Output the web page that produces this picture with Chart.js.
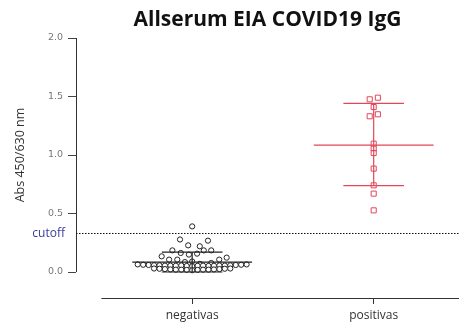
<!DOCTYPE html>
<html>
<head>
<meta charset="utf-8">
<script src="https://cdn.jsdelivr.net/npm/chart.js@4.4.0/dist/chart.umd.min.js"></script>
<style>
html, body { margin: 0; padding: 0; background: #fff; }
#wrap { width: 464px; height: 327px; }
</style>
</head>
<body>
<div id="wrap"><canvas id="chart"></canvas></div>
<script>
const groups = ['negativas', 'positivas'];
const yTicks = [0, 0.5, 1.0, 1.5, 2.0];
const cutoff = 0.33;

// beeswarm positions (x = group index + offset)
const negX = [1.000,
  0.933, 1.087,
  0.978, 1.042,
  0.891, 0.937, 0.982, 1.027, 1.064, 1.105,
  0.832, 0.873, 0.918, 0.960, 1.000, 1.042, 1.105, 1.149, 1.190,
  0.70, 0.73, 0.76, 0.79, 0.82, 0.85, 0.88, 0.91, 0.94, 0.97, 1.00, 1.03, 1.06, 1.09, 1.12, 1.15, 1.18, 1.21, 1.24, 1.27, 1.30,
  0.79, 0.82, 0.85, 0.88, 0.91, 0.94, 0.97, 1.00, 1.03, 1.06, 1.09, 1.12, 1.15, 1.18, 1.21];
const negY = [0.39,
  0.278, 0.268,
  0.228, 0.220,
  0.185, 0.163, 0.149, 0.157, 0.185, 0.185,
  0.134, 0.106, 0.106, 0.085, 0.090, 0.070, 0.077, 0.106, 0.123,
  0.065, 0.062, 0.060, 0.058, 0.057, 0.055, 0.055, 0.054, 0.056, 0.052, 0.050, 0.053, 0.055, 0.052, 0.054, 0.056, 0.055, 0.057, 0.060, 0.062, 0.065,
  0.030, 0.028, 0.025, 0.022, 0.020, 0.020, 0.018, 0.015, 0.018, 0.020, 0.020, 0.022, 0.025, 0.028, 0.030];

const posX = [1.978, 2.023, 2.000, 1.978, 2.023, 2.000, 2.000, 2.000, 2.000, 2.000, 2.000, 2.000];
const posY = [1.476, 1.490, 1.410, 1.331, 1.348, 1.097, 1.055, 1.017, 0.884, 0.741, 0.670, 0.527];

// mean and SD bars as drawn
const groupMean = [0.085, 1.085];
const groupSdLow = [0.0, 0.738];
const groupSdHigh = [0.17, 1.442];

const groupColors = ['#222222', '#e2475a'];
const yTitle = 'Abs 450/630 nm';

const toPoints = (xs, ys) => xs.map((v, i) => ({x: v, y: ys[i]}));

const prismPlugin = {
  id: 'prismPlugin',
  beforeDatasetsDraw(chart) {
    const {ctx, chartArea, scales: {x, y}} = chart;
    const y0 = y.getPixelForValue(0), y2 = y.getPixelForValue(2);
    ctx.save();
    ctx.strokeStyle = '#333';
    ctx.lineWidth = 1;
    // y axis line, only from 0 to 2
    ctx.beginPath();
    ctx.moveTo(chartArea.left + 0.5, y0);
    ctx.lineTo(chartArea.left + 0.5, y2);
    ctx.stroke();
    // x axis line, offset from y axis
    ctx.beginPath();
    ctx.moveTo(x.getPixelForValue(0.5), chartArea.bottom + 0.5);
    ctx.lineTo(chartArea.right, chartArea.bottom + 0.5);
    ctx.stroke();
    // y title centred on the 0..2 range
    ctx.save();
    ctx.translate(20, (y0 + y2) / 2);
    ctx.rotate(-Math.PI / 2);
    ctx.fillStyle = '#333';
    ctx.font = '12.5px "Open Sans"';
    ctx.textAlign = 'center';
    ctx.textBaseline = 'middle';
    ctx.fillText(yTitle, 0, 0);
    ctx.restore();
    // cutoff
    const cy = Math.round(y.getPixelForValue(cutoff)) + 0.5;
    ctx.strokeStyle = '#111';
    ctx.lineWidth = 1.2;
    ctx.setLineDash([1.5, 1.5]);
    ctx.beginPath();
    ctx.moveTo(chartArea.left, cy);
    ctx.lineTo(chartArea.right, cy);
    ctx.stroke();
    ctx.setLineDash([]);
    ctx.fillStyle = '#3b3b9c';
    ctx.font = '12px "Open Sans"';
    ctx.textAlign = 'right';
    ctx.textBaseline = 'middle';
    ctx.fillText('cutoff', chartArea.left - 11, cy);
    ctx.restore();
  },
  afterDatasetsDraw(chart) {
    const {ctx, scales: {x, y}} = chart;
    ctx.save();
    ctx.lineWidth = 1.2;
    groups.forEach((g, i) => {
      const cx = x.getPixelForValue(i + 1);
      const meanW = x.getPixelForValue(i + 1.33) - cx;
      const capW = x.getPixelForValue(i + 1.167) - cx;
      const ym = y.getPixelForValue(groupMean[i]);
      const yl = y.getPixelForValue(groupSdLow[i]);
      const yh = y.getPixelForValue(groupSdHigh[i]);
      ctx.strokeStyle = groupColors[i];
      ctx.beginPath();
      ctx.moveTo(cx - meanW, ym); ctx.lineTo(cx + meanW, ym);
      ctx.moveTo(cx - capW, yl); ctx.lineTo(cx + capW, yl);
      ctx.moveTo(cx - capW, yh); ctx.lineTo(cx + capW, yh);
      ctx.moveTo(cx, yl); ctx.lineTo(cx, yh);
      ctx.stroke();
    });
    ctx.restore();
  }
};

new Chart(document.getElementById('chart'), {
  type: 'scatter',
  data: {
    datasets: [
      {
        label: groups[0],
        data: toPoints(negX, negY),
        pointStyle: 'circle',
        pointRadius: 2.6,
        pointBorderWidth: 1,
        borderColor: groupColors[0],
        backgroundColor: '#ffffff'
      },
      {
        label: groups[1],
        data: toPoints(posX, posY),
        pointStyle: 'rect',
        pointRadius: 3.6,
        pointBorderWidth: 1,
        borderColor: groupColors[1],
        backgroundColor: 'rgba(255,255,255,0.6)'
      }
    ]
  },
  options: {
    responsive: true,
    maintainAspectRatio: false,
    animation: false,
    events: [],
    layout: { padding: 0 },
    plugins: {
      legend: { display: false },
      tooltip: { enabled: false },
      title: {
        display: true,
        text: 'Allserum EIA COVID19 IgG',
        fullSize: false,
        color: '#111',
        font: { family: '"Open Sans"', size: 21, weight: 'bold', lineHeight: 1.2 },
        padding: { top: 7.5, bottom: 5.3 }
      }
    },
    scales: {
      x: {
        type: 'linear',
        min: 0.36,
        max: 2.47,
        afterBuildTicks: (s) => { s.ticks = groups.map((g, i) => ({value: i + 1})); },
        afterFit: (s) => { s.height = 29; },
        border: { display: false },
        grid: { drawOnChartArea: false, drawTicks: true, tickLength: 6, color: '#333', lineWidth: 1 },
        ticks: {
          padding: 4,
          color: '#333',
          font: { family: '"Open Sans"', size: 12 },
          maxRotation: 0,
          callback: (v, i) => groups[i]
        }
      },
      y: {
        min: -0.222,
        max: 2.0,
        afterBuildTicks: (s) => { s.ticks = yTicks.map(v => ({value: v})); },
        afterFit: (s) => { s.width = 76; },
        border: { display: false },
        grid: { drawOnChartArea: false, drawTicks: true, tickLength: 8, color: '#444', lineWidth: 1 },
        ticks: {
          padding: 5,
          color: '#777',
          font: { family: '"DejaVu Sans"', size: 9.5 },
          callback: (v) => v.toFixed(1)
        }
      }
    }
  },
  plugins: [prismPlugin]
});
</script>
</body>
</html>
